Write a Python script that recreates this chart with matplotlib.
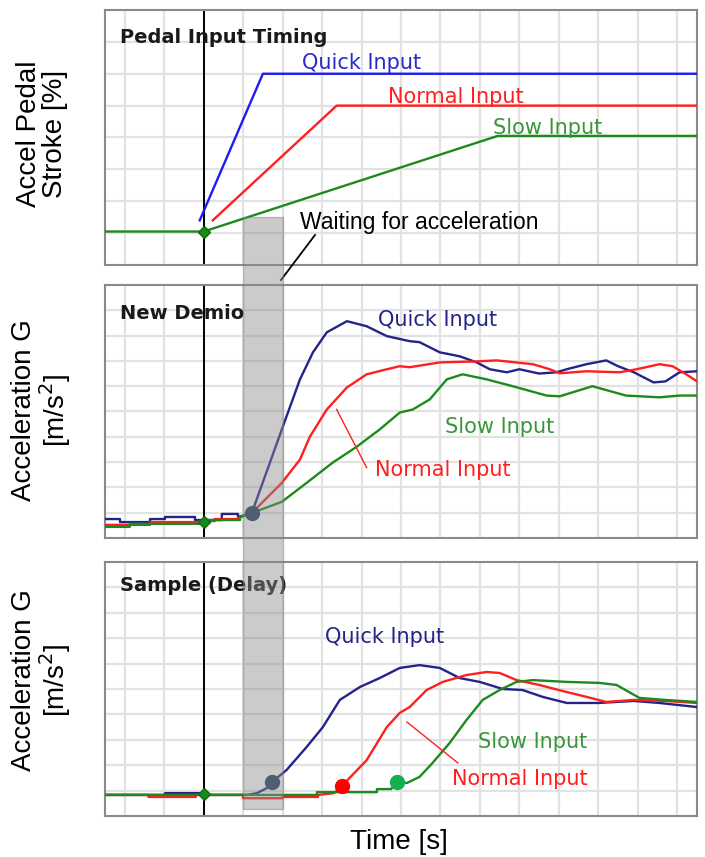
import matplotlib
matplotlib.use("Agg")
import matplotlib.pyplot as plt
from matplotlib.patches import Rectangle
from matplotlib.lines import Line2D
from matplotlib.transforms import blended_transform_factory

# ---------------- data ----------------
# Panel 1: accelerator pedal stroke
pedal_quick_x = [2.4, 4.0, 15.0]
pedal_quick_y = [1.4, 6.0, 6.0]
pedal_normal_x = [2.73, 5.87, 15.0]
pedal_normal_y = [1.4, 5.0, 5.0]
pedal_slow_x = [0.0, 2.5, 9.95, 15.0]
pedal_slow_y = [1.05, 1.05, 4.05, 4.05]

# Panel 2: New Demio acceleration
demio_quick_x = [0.0, 0.38, 0.38, 1.14, 1.14, 1.52, 1.52, 2.28, 2.28, 2.96, 2.96, 3.37, 3.37, 3.72,
                 4.48, 4.94, 5.27, 5.62, 6.13, 6.63, 7.14, 7.72, 7.97, 8.48, 8.99, 9.42, 9.75, 10.18,
                 10.5, 11.0, 11.44, 11.7, 12.2, 12.7, 13.0, 13.4, 13.9, 14.2, 14.56, 15.0]
demio_quick_y = [0.75, 0.75, 0.63, 0.63, 0.75, 0.75, 0.83, 0.83, 0.71, 0.71, 0.95, 0.95, 0.83, 0.99,
                 4.29, 6.27, 7.34, 8.13, 8.57, 8.37, 7.98, 7.78, 7.74, 7.34, 7.18, 6.94, 6.67, 6.55,
                 6.67, 6.50, 6.55, 6.67, 6.87, 7.02, 6.79, 6.55, 6.15, 6.19, 6.55, 6.59]
demio_normal_x = [0.0, 1.14, 1.14, 2.41, 2.41, 2.78, 2.78, 3.37, 3.37, 3.72,
                  4.48, 4.94, 5.19, 5.62, 6.13, 6.63, 7.14, 7.47, 7.72, 8.48, 9.42, 9.92, 10.84,
                  11.27, 11.52, 12.2, 13.04, 13.47, 14.05, 14.38, 14.73, 15.0]
demio_normal_y = [0.52, 0.52, 0.63, 0.63, 0.67, 0.67, 0.75, 0.75, 0.79, 0.99,
                  2.18, 3.10, 4.00, 5.08, 5.95, 6.47, 6.67, 6.79, 6.75, 6.94, 6.98, 7.02, 6.87,
                  6.67, 6.51, 6.59, 6.55, 6.67, 6.87, 6.79, 6.47, 6.19]
demio_slow_x = [0.0, 0.63, 0.63, 2.5, 2.5, 3.42, 3.42, 3.72,
                4.48, 5.11, 5.77, 6.38, 6.96, 7.47, 7.80, 8.23, 8.66, 9.06, 9.67, 10.33,
                11.19, 11.52, 12.35, 13.2, 14.05, 14.56, 15.0]
demio_slow_y = [0.44, 0.44, 0.56, 0.56, 0.71, 0.71, 0.83, 0.99,
                1.43, 2.18, 2.98, 3.61, 4.29, 4.96, 5.08, 5.48, 6.27, 6.47, 6.27, 6.00,
                5.63, 5.60, 6.00, 5.63, 5.56, 5.63, 5.63]

# Panel 3: sample vehicle (delay)
sample_quick_x = [0.0, 1.52, 1.52, 2.5, 2.5, 3.6, 3.85, 4.1, 4.23,
                  4.6, 5.11, 5.52, 5.95, 6.46, 6.96, 7.47, 7.97, 8.48, 8.99, 9.49, 10.08,
                  10.58, 11.09, 11.7, 12.5, 13.4, 14.05, 15.0]
sample_quick_y = [0.83, 0.83, 0.90, 0.90, 0.83, 0.83, 0.90, 1.10, 1.34,
                  1.81, 2.72, 3.50, 4.57, 5.08, 5.43, 5.83, 5.94, 5.83, 5.43, 5.28, 5.00,
                  4.96, 4.69, 4.45, 4.45, 4.53, 4.45, 4.29]
sample_normal_x = [0.0, 1.1, 1.1, 2.3, 2.3, 3.5, 3.5, 4.5, 4.5, 5.4, 5.4, 5.8, 6.0,
                   6.63, 7.14, 7.47, 7.72, 8.15, 8.56, 9.16, 9.67, 10.0, 10.43, 11.0, 11.7,
                   12.2, 12.7, 13.4, 14.2, 15.0]
sample_normal_y = [0.83, 0.83, 0.75, 0.75, 0.83, 0.83, 0.70, 0.70, 0.75, 0.75, 0.83, 0.90, 1.18,
                   2.20, 3.50, 4.06, 4.29, 4.96, 5.28, 5.55, 5.67, 5.63, 5.35, 5.16, 4.88,
                   4.69, 4.49, 4.57, 4.53, 4.45]
sample_slow_x = [0.0, 5.37, 5.37, 6.89, 6.89, 7.25, 7.39,
                 7.65, 7.97, 8.30, 8.73, 9.16, 9.57, 10.0, 10.43, 10.84, 11.7, 12.53, 12.96,
                 13.54, 14.2, 15.0]
sample_slow_y = [0.83, 0.83, 0.94, 0.94, 1.06, 1.06, 1.34,
                 1.30, 1.54, 2.09, 2.87, 3.78, 4.57, 4.96, 5.28, 5.35, 5.28, 5.24, 5.16,
                 4.65, 4.57, 4.49]

# onset points (start of acceleration)
demio_onset_x = [3.72]
demio_onset_y = [0.99]
sample_onset_x = [4.23, 6.0, 7.39]
sample_onset_y = [1.34, 1.18, 1.34]

# pedal-input instant (diamond markers)
pedal_on_x = 2.5
pedal_on_y = [1.05, 0.65, 0.88]

# waiting window
wait_x0, wait_x1 = 3.5, 4.5

panel_titles = ["Pedal Input Timing", "New Demio", "Sample (Delay)"]
ylabels = ["Accel Pedal\nStroke [%]", "Acceleration G\n[m/s$^2$]", "Acceleration G\n[m/s$^2$]"]
xlabel = "Time [s]"

# ---------------- style ----------------
C_BLUE = "#1c1cf0"
C_NAVY = "#23238a"
C_RED = "#ff1f1f"
C_GREEN = "#1d8a1d"
C_TXT_GREEN = "#3a963a"
C_MARK_NAVY = "#1f3a5c"
C_MARK_GREEN = "#14b050"

fig = plt.figure(figsize=(7.05, 8.57), dpi=100)
W, H = 705, 857

def axes_px(left, top, right, bottom):
    return fig.add_axes([left / W, 1 - bottom / H, (right - left) / W, (bottom - top) / H])

ax1 = axes_px(105, 10, 697, 265)
ax2 = axes_px(105, 285, 697, 538)
ax3 = axes_px(105, 562, 697, 816)
axes = [ax1, ax2, ax3]
ymax = [8, 10, 10]
ylabel_cy = [134, 410, 680]

for ax, ym, yl, cy in zip(axes, ymax, ylabels, ylabel_cy):
    ax.set_xlim(0, 15)
    ax.set_ylim(0, ym)
    ax.set_xticks([i + 0.5 for i in range(15)])
    ax.set_yticks(range(1, ym))
    ax.tick_params(length=0, labelbottom=False, labelleft=False)
    ax.grid(True, color="#e2e2e2", linewidth=1.6)
    ax.set_axisbelow(True)
    for s in ax.spines.values():
        s.set_color("#8a8a8a")
        s.set_linewidth(1.5)
    ax.axvline(pedal_on_x, color="black", linewidth=1.4, zorder=2)
    fig.text(42 / W, 1 - cy / H, yl, rotation=90, fontsize=20, family="Liberation Sans",
             ha="center", va="center", multialignment="center", linespacing=1.0)

LW = 1.7
ax1.plot(pedal_quick_x, pedal_quick_y, color=C_BLUE, lw=LW, zorder=3)
ax1.plot(pedal_normal_x, pedal_normal_y, color=C_RED, lw=LW, zorder=3)
ax1.plot(pedal_slow_x, pedal_slow_y, color=C_GREEN, lw=LW, zorder=3)

ax2.plot(demio_quick_x, demio_quick_y, color=C_NAVY, lw=LW, zorder=3)
ax2.plot(demio_normal_x, demio_normal_y, color=C_RED, lw=LW, zorder=3)
ax2.plot(demio_slow_x, demio_slow_y, color=C_GREEN, lw=LW, zorder=3)
ax2.plot(demio_onset_x, demio_onset_y, "o", color=C_MARK_NAVY, ms=10, zorder=5)

ax3.plot(sample_quick_x, sample_quick_y, color=C_NAVY, lw=LW, zorder=3)
ax3.plot(sample_normal_x, sample_normal_y, color=C_RED, lw=LW, zorder=3)
ax3.plot(sample_slow_x, sample_slow_y, color=C_GREEN, lw=LW, zorder=3)
for x, y, c in zip(sample_onset_x, sample_onset_y, [C_MARK_NAVY, "#ff0000", C_MARK_GREEN]):
    ax3.plot([x], [y], "o", color=c, ms=10, zorder=5)

for ax, y in zip(axes, pedal_on_y):
    ax.plot([pedal_on_x], [y], "D", color="#1a8a1a", mec="#0d6b0d", ms=6, zorder=6)

# panel titles
title_y = [7.14, 8.89, 9.06]
for ax, t, ty in zip(axes, panel_titles, title_y):
    ax.text(0.38, ty, t, fontsize=14, fontweight="bold", family="DejaVu Sans",
            color="#1a1a1a", va="center", ha="left", zorder=7)

LFS = 15
ax1.text(5.0, 6.35, "Quick Input", color="#2a2acc", fontsize=LFS, va="center", zorder=7)
ax1.text(7.16, 5.28, "Normal Input", color=C_RED, fontsize=LFS, va="center", zorder=7)
ax1.text(9.82, 4.31, "Slow Input", color=C_TXT_GREEN, fontsize=LFS, va="center", zorder=7)

ax2.text(6.91, 8.61, "Quick Input", color=C_NAVY, fontsize=LFS, va="center", zorder=7)
ax2.text(8.61, 4.37, "Slow Input", color=C_TXT_GREEN, fontsize=LFS, va="center", zorder=7)
ax2.text(6.84, 2.70, "Normal Input", color=C_RED, fontsize=LFS, va="center", zorder=7)
ax2.plot([5.87, 6.63], [5.08, 2.78], color=C_RED, lw=1.0, zorder=4)

ax3.text(5.57, 7.05, "Quick Input", color=C_NAVY, fontsize=LFS, va="center", zorder=7)
ax3.text(9.44, 2.91, "Slow Input", color=C_TXT_GREEN, fontsize=LFS, va="center", zorder=7)
ax3.text(8.78, 1.46, "Normal Input", color=C_RED, fontsize=LFS, va="center", zorder=7)
ax3.plot([7.65, 8.94], [3.70, 2.09], color=C_RED, lw=1.0, zorder=4)

# waiting window spanning all panels
tr = blended_transform_factory(ax1.transData, fig.transFigure)
rect = Rectangle((wait_x0, 1 - 809 / H), wait_x1 - wait_x0, (809 - 217) / H,
                 transform=tr, facecolor="#8c8c8c", alpha=0.45,
                 edgecolor="#7a7a7a", linewidth=1.0, zorder=10)
fig.add_artist(rect)

fig.text(300 / W, 1 - 222 / H, "Waiting for acceleration", fontsize=16.5,
         family="Liberation Sans", va="center", ha="left")
fig.add_artist(Line2D([315 / W, 281 / W], [1 - 235 / H, 1 - 280 / H],
                      transform=fig.transFigure, color="black", lw=1.3))

fig.text(399 / W, 1 - 842 / H, xlabel, fontsize=20, family="Liberation Sans",
         ha="center", va="center")

fig.savefig("out.png", dpi=100)
